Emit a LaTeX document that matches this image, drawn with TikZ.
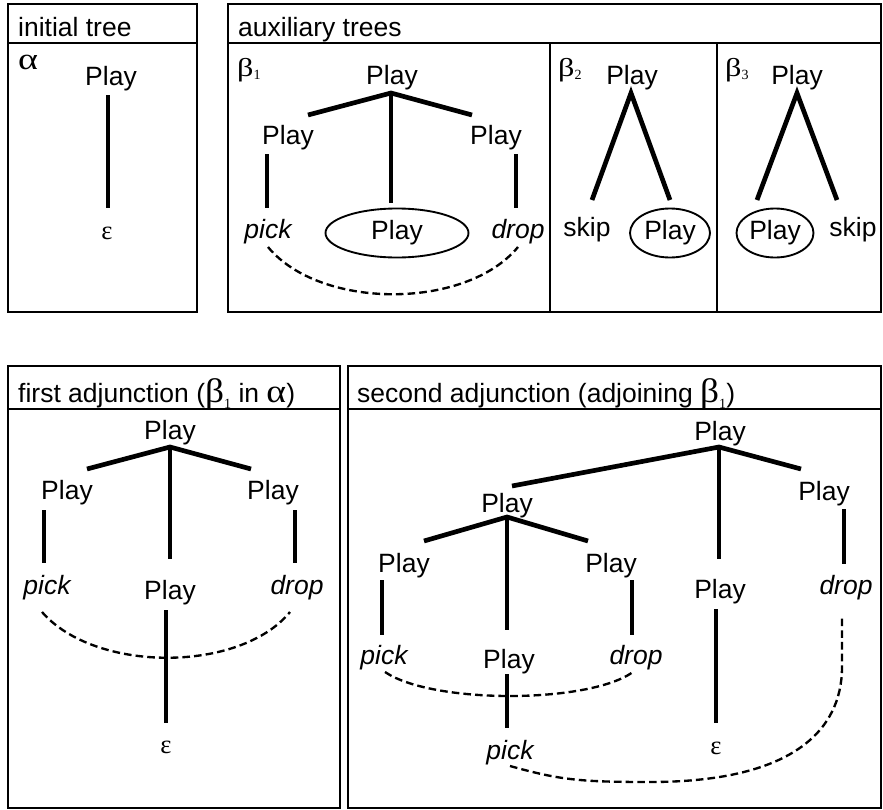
\documentclass[tikz,border=0pt]{standalone}
\usepackage{graphicx}
\usepackage{fontspec}
\setmainfont{Liberation Sans}
\newfontfamily\grkfam{Liberation Serif}
\usetikzlibrary{shapes.geometric}
\newcommand\bigfont{\fontsize{22.6}{27}\selectfont}
\newcommand\lowsub[1]{\raisebox{-0.5ex}{\fontsize{12}{12}\selectfont\grkfam #1}}
\newcommand\betalab[1]{{\fontsize{22}{22}\selectfont\grkfam\scalebox{1.25}[1]{β}}\lowsub{#1}}
\newcommand\tbeta{{\fontsize{29}{29}\selectfont\grkfam\scalebox{1.1}[1]{β}}}
\newcommand\talpha{{\fontsize{28}{28}\selectfont\grkfam\scalebox{1.15}[1]{α}}}
\tikzset{
  frame/.style={line width=2pt},
  hline/.style={line width=1.6pt},
  branch/.style={line width=4pt, line join=miter},
  link/.style={line width=2pt, dash pattern=on 6.5pt off 3.5pt},
  lbl/.style={inner sep=0pt, font=\bigfont},
  ilbl/.style={inner sep=0pt, font=\bigfont\itshape},
  glbl/.style={inner sep=0pt, font=\bigfont\grkfam},
  hdr/.style={inner sep=0pt, font=\bigfont, anchor=base west},
  foot/.style={draw, ellipse, line width=1.6pt, inner sep=0pt, font=\bigfont, minimum height=1.47cm},
}
\begin{document}
\begin{tikzpicture}[x=0.03cm, y=-0.03cm]
\useasboundingbox (0,0) rectangle (883,810);
% ---------- frames ----------
\draw[frame] (8,4) rectangle (197,312);
\draw[hline] (8,43) -- (197,43);
\draw[frame] (228,4) rectangle (881,312);
\draw[hline] (228,43) -- (881,43);
\draw[frame] (550,43) -- (550,312);
\draw[frame] (717,43) -- (717,312);
\draw[frame] (8,366) rectangle (340,808);
\draw[hline] (8,409) -- (340,409);
\draw[frame] (348,366) rectangle (881,808);
\draw[hline] (348,409) -- (881,409);
% ---------- headers ----------
\node[hdr] (h1) at (18,36) {initial tree};
\node[hdr] (h2) at (238,36) {auxiliary trees};
\node[hdr] (h3) at (18,402) {first adjunction (\tbeta\lowsub{1} in \talpha)};
\node[hdr] (h4) at (357,402) {second adjunction (adjoining \tbeta\lowsub{1})};
% ---------- alpha ----------
\node[inner sep=0pt] (alab) at (28,62) {{\fontsize{26}{26}\selectfont\grkfam\scalebox{1.25}[1]{α}}};
\node[lbl] (a0) at (111,79) {Play};
\node[glbl] (a1) at (107,233) {ε};
\coordinate (a0b) at (108,95);
\coordinate (a1t) at (108,208);
\draw[branch] (a0b) -- (a1t);
% ---------- beta 1 ----------
\node[inner sep=0pt, anchor=west] (b1lab) at (237,70) {\betalab{1}};
\node[lbl] (b1r) at (392,78) {Play};
\node[lbl] (b1l) at (288,138) {Play};
\node[lbl] (b1rr) at (496,138) {Play};
\node[ilbl] (b1pick) at (268,232) {pick};
\node[ilbl] (b1drop) at (518,232) {drop};
\node[foot, minimum width=4.29cm] (b1foot) at (397,233) {Play};
\coordinate (b1j) at (391,93);
\coordinate (b1le) at (308,115);
\coordinate (b1re) at (472,115);
\coordinate (b1me) at (391,203);
\coordinate (b1lt) at (267,154);
\coordinate (b1lb) at (267,208);
\coordinate (b1rt) at (516,154);
\coordinate (b1rb) at (516,208);
\coordinate (b1ds) at (268,247);
\coordinate (b1de) at (518,247);
\draw[branch] (b1le) -- (b1j) -- (b1re);
\draw[branch] (b1j) -- (b1me);
\draw[branch] (b1lt) -- (b1lb);
\draw[branch] (b1rt) -- (b1rb);
\draw[link] (b1ds) .. controls (320,310) and (466,310) .. (b1de);
% ---------- beta 2 ----------
\node[inner sep=0pt, anchor=west] (b2lab) at (558,70) {\betalab{2}};
\node[lbl] (b2r) at (632,78) {Play};
\node[lbl] (b2skip) at (587,230) {skip};
\node[foot, minimum width=2.4cm] (b2foot) at (670,233) {Play};
\coordinate (b2j) at (631,93);
\coordinate (b2le) at (592,200);
\coordinate (b2re) at (670,200);
\draw[branch] (b2le) -- (b2j) -- (b2re);
% ---------- beta 3 ----------
\node[inner sep=0pt, anchor=west] (b3lab) at (725,70) {\betalab{3}};
\node[lbl] (b3r) at (797,78) {Play};
\node[foot, minimum width=2.31cm] (b3foot) at (775,233) {Play};
\node[lbl] (b3skip) at (853,230) {skip};
\coordinate (b3j) at (797,93);
\coordinate (b3le) at (757,200);
\coordinate (b3re) at (837,200);
\draw[branch] (b3le) -- (b3j) -- (b3re);
% ---------- first adjunction ----------
\node[lbl] (f0) at (170,433) {Play};
\node[lbl] (fl) at (67,493) {Play};
\node[lbl] (fr) at (273,493) {Play};
\node[ilbl] (fpick) at (47,588) {pick};
\node[ilbl] (fdrop) at (297,588) {drop};
\node[lbl] (fm) at (170,593) {Play};
\node[glbl] (feps) at (166,747) {ε};
\coordinate (fj) at (170,447);
\coordinate (fle) at (87,469);
\coordinate (fre) at (251,469);
\coordinate (fme) at (170,559);
\coordinate (flt) at (44,510);
\coordinate (flb) at (44,563);
\coordinate (frt) at (295,510);
\coordinate (frb) at (295,563);
\coordinate (fmt) at (166,610);
\coordinate (fmb) at (166,723);
\coordinate (fds) at (42,612);
\coordinate (fde) at (290,612);
\draw[branch] (fle) -- (fj) -- (fre);
\draw[branch] (fj) -- (fme);
\draw[branch] (flt) -- (flb);
\draw[branch] (frt) -- (frb);
\draw[branch] (fmt) -- (fmb);
\draw[link] (fds) .. controls (95,673) and (240,673) .. (fde);
% ---------- second adjunction ----------
\node[lbl] (s0) at (720,434) {Play};
\node[lbl] (sr) at (824,494) {Play};
\node[ilbl] (sdrop) at (846,588) {drop};
\node[lbl] (sm) at (720,592) {Play};
\node[glbl] (seps) at (716,748) {ε};
\node[lbl] (t0) at (507,506) {Play};
\node[lbl] (tl) at (404,566) {Play};
\node[lbl] (tr) at (611,566) {Play};
\node[ilbl] (tpick) at (384,658) {pick};
\node[ilbl] (tdrop) at (636,658) {drop};
\node[lbl] (tm) at (509,662) {Play};
\node[ilbl] (tpick2) at (510,753) {pick};
\coordinate (sj) at (719,447);
\coordinate (sle) at (512,486);
\coordinate (sre) at (801,469);
\coordinate (sme) at (719,559);
\coordinate (srt) at (844,509);
\coordinate (srb) at (844,564);
\coordinate (smt) at (716,609);
\coordinate (smb) at (716,723);
\coordinate (tj) at (507,517);
\coordinate (tle) at (424,541);
\coordinate (tre) at (588,541);
\coordinate (tme) at (507,630);
\coordinate (tlt) at (382,580);
\coordinate (tlb) at (382,635);
\coordinate (trt) at (632,580);
\coordinate (trb) at (632,635);
\coordinate (tmt) at (507,674);
\coordinate (tmb) at (507,728);
\coordinate (tds) at (385,672);
\coordinate (tde) at (633,672);
\coordinate (uds) at (510,766);
\coordinate (ude) at (842,618);
\draw[branch] (sle) -- (sj) -- (sre);
\draw[branch] (sj) -- (sme);
\draw[branch] (srt) -- (srb);
\draw[branch] (smt) -- (smb);
\draw[branch] (tle) -- (tj) -- (tre);
\draw[branch] (tj) -- (tme);
\draw[branch] (tlt) -- (tlb);
\draw[branch] (trt) -- (trb);
\draw[branch] (tmt) -- (tmb);
\draw[link] (tds) .. controls (432,704) and (588,704) .. (tde);
\draw[link] (uds) .. controls (560,780) and (580,782) .. (650,782)
  .. controls (790,782) and (842,732) .. (842,667) -- (ude);
\end{tikzpicture}
\end{document}
